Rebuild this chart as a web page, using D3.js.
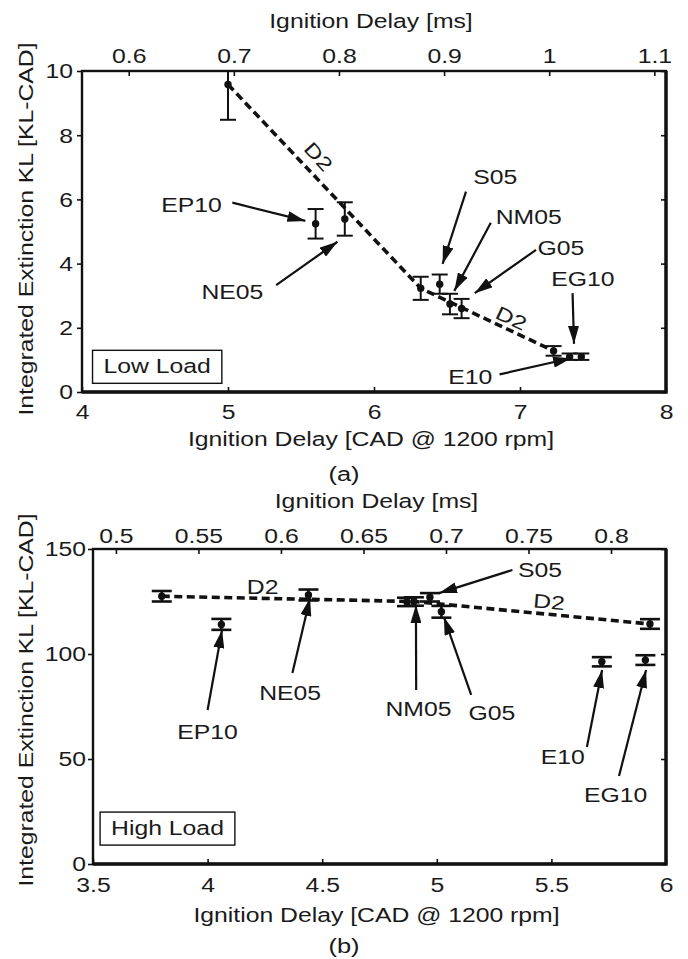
<!DOCTYPE html>
<html>
<head>
<meta charset="utf-8">
<script src="https://cdn.jsdelivr.net/npm/d3@7/dist/d3.min.js"></script>
<style>
body { margin: 0; background: #fff; }
text { font-family: "Liberation Sans", Arial, Helvetica, sans-serif; fill: #1a1a1a; }
</style>
</head>
<body>
<div id="viz_area"></div>
<script>
// ---------- (a) low load ----------
var lowD2Cad = [5.0, 6.32, 7.23];
var lowD2KL  = [9.58, 3.23, 1.28];
var lowD2Err = [1.1, 0.36, 0.15];

var lowFuels = ["EP10", "NE05", "S05", "NM05", "G05", "E10", "EG10"];
var lowCad   = [5.6, 5.8, 6.45, 6.52, 6.6, 7.34, 7.42];
var lowKL    = [5.24, 5.39, 3.36, 2.74, 2.6, 1.1, 1.1];
var lowErr   = [0.46, 0.52, 0.3, 0.32, 0.3, 0.1, 0.1];

var lowXTicks  = [4, 5, 6, 7, 8];
var lowYTicks  = [0, 2, 4, 6, 8, 10];
var lowMsTicks = [0.6, 0.7, 0.8, 0.9, 1, 1.1];

// label text, where it sits, arrow tail and arrow tip (all in data units)
var lowNoteText = ["EP10", "NE05", "S05", "NM05", "G05", "EG10", "E10"];
var lowNoteAt   = [[4.75, 5.83], [5.03, 3.12], [6.83, 6.68], [7.06, 5.46], [7.28, 4.49], [7.43, 3.52], [6.66, 0.46]];
var lowArrFrom  = [[5.03, 5.90], [5.33, 3.33], [6.63, 6.24], [6.80, 5.27], [7.11, 4.43], [7.36, 3.08], [6.86, 0.55]];
var lowArrTo    = [[5.53, 5.33], [5.75, 4.68], [6.47, 3.99], [6.55, 3.15], [6.69, 3.08], [7.37, 1.50], [7.35, 1.05]];
var lowD2At     = [[5.62, 7.33], [6.94, 2.30]];

// ---------- (b) high load ----------
var highD2Cad = [3.8, 4.9, 5.93];
var highD2KL  = [127.5, 125.0, 114.3];
var highD2Err = [2.5, 2.0, 2.3];

var highFuels = ["EP10", "NE05", "NM05", "S05", "G05", "E10", "EG10"];
var highCad   = [4.06, 4.44, 4.87, 4.97, 5.02, 5.72, 5.91];
var highKL    = [114.1, 128.1, 124.8, 127.0, 120.1, 96.3, 97.1];
var highErr   = [2.6, 2.6, 2.0, 2.0, 2.8, 2.2, 2.3];

var highXTicks  = [3.5, 4, 4.5, 5, 5.5, 6];
var highYTicks  = [0, 50, 100, 150];
var highMsTicks = [0.5, 0.55, 0.6, 0.65, 0.7, 0.75, 0.8];

var highNoteText = ["S05", "NE05", "EP10", "NM05", "G05", "E10", "EG10"];
var highNoteAt   = [[5.45, 140.0], [4.36, 81.4], [4.00, 62.9], [4.92, 73.8], [5.24, 71.9], [5.55, 51.0], [5.78, 32.9]];
var highArrFrom  = [[5.33, 140.0], [4.37, 91.0], [4.00, 73.3], [4.91, 82.9], [5.15, 80.5], [5.655, 55.7], [5.795, 41.9]];
var highArrTo    = [[5.01, 129.0], [4.447, 126.7], [4.063, 111.4], [4.909, 123.3], [5.031, 117.6], [5.721, 92.4], [5.913, 92.4]];
var highD2At     = [[4.24, 131.9], [5.49, 124.8]];

var CAD_PER_MS = 7.2;   // 1200 rpm -> 7.2 crank degrees per ms
var SX = 1.27;          // the figure's lettering is drawn wide
var FS = 19.5;

function __init__() {
    var svg = d3.select("#viz_area")
                .append("svg")
                .attr("width", 688)
                .attr("height", 959);

    svg.append("defs").append("marker")
       .attr("id", "head")
       .attr("viewBox", "0 0 18 11")
       .attr("refX", 18).attr("refY", 5.5)
       .attr("markerWidth", 18).attr("markerHeight", 11)
       .attr("markerUnits", "userSpaceOnUse")
       .attr("orient", "auto")
       .append("path")
       .attr("d", "M0,0 L18,5.5 L0,11 Z")
       .attr("fill", "#111");

    drawPanel(svg, {
        id: "a", left: 82, right: 666, top: 71, bottom: 392,
        xDomain: [4, 8], yDomain: [0, 10],
        xTicks: lowXTicks, yTicks: lowYTicks, msTicks: lowMsTicks,
        d2: d3.zip(lowD2Cad, lowD2KL, lowD2Err),
        pts: d3.zip(lowCad, lowKL, lowErr, lowFuels),
        notes: d3.zip(lowNoteText, lowNoteAt, lowArrFrom, lowArrTo),
        d2At: lowD2At, d2Rot: [48, 25],
        load: "Low Load", loadAt: [4.515, 0.8],
        capW: 8, barW: 2, topTitleY: 28, topTickY: 63, bottomTickY: 419, bottomTitleY: 446,
        captionY: 481, caption: "(a)", yTitleY: 229, yTickGap: 9
    });

    drawPanel(svg, {
        id: "b", left: 93, right: 666, top: 549, bottom: 864,
        xDomain: [3.5, 6], yDomain: [0, 150],
        xTicks: highXTicks, yTicks: highYTicks, msTicks: highMsTicks,
        d2: d3.zip(highD2Cad, highD2KL, highD2Err),
        pts: d3.zip(highCad, highKL, highErr, highFuels),
        notes: d3.zip(highNoteText, highNoteAt, highArrFrom, highArrTo),
        d2At: highD2At, d2Rot: [0, 5],
        load: "High Load", loadAt: [3.825, 17.1],
        capW: 10, barW: 2.6, topTitleY: 508, topTickY: 543, bottomTickY: 892, bottomTitleY: 922,
        captionY: 953, caption: "(b)", yTitleY: 700, yTickGap: 7
    });
}

// wide text helper
function label(g, x, y, str, rot) {
    return g.append("text")
            .attr("transform", "translate(" + x + "," + y + ")" + (rot ? " rotate(" + rot + ")" : "") + " scale(" + SX + ",1)")
            .attr("text-anchor", "middle")
            .attr("font-size", FS)
            .text(str);
}

function drawPanel(svg, p) {
    var x = d3.scaleLinear().domain(p.xDomain).range([p.left, p.right]);
    var y = d3.scaleLinear().domain(p.yDomain).range([p.bottom, p.top]);
    var xms = d3.scaleLinear()
                .domain([p.xDomain[0] / CAD_PER_MS, p.xDomain[1] / CAD_PER_MS])
                .range([p.left, p.right]);
    var fmt = d3.format("~g");
    var g = svg.append("g");

    // bottom axis, ticks pointing in
    var gx = g.append("g")
              .attr("transform", "translate(0," + p.bottom + ")")
              .call(d3.axisBottom(x).tickValues(p.xTicks).tickSize(-5).tickSizeOuter(0).tickFormat(fmt));
    // top axis in ms
    var gt = g.append("g")
              .attr("transform", "translate(0," + p.top + ")")
              .call(d3.axisTop(xms).tickValues(p.msTicks).tickSize(-5).tickSizeOuter(0).tickFormat(fmt));
    // left axis, short ticks outside
    var gy = g.append("g")
              .attr("transform", "translate(" + p.left + ",0)")
              .call(d3.axisLeft(y).tickValues(p.yTicks).tickSize(5).tickSizeOuter(0).tickFormat(fmt));
    // right axis, ticks only
    var gr = g.append("g")
              .attr("transform", "translate(" + p.right + ",0)")
              .call(d3.axisRight(y).tickValues(p.yTicks).tickSize(-5).tickSizeOuter(0).tickFormat(""));

    [gx, gt, gy, gr].forEach(function(a) {
        a.attr("font-size", null).attr("font-family", null);
        a.select(".domain").remove();
        a.selectAll("line").attr("stroke", "#111").attr("stroke-width", 1.6);
        a.selectAll("text").attr("x", null).attr("y", null).attr("dy", null).attr("fill", "#1a1a1a").attr("font-size", FS);
    });
    gx.selectAll("text").attr("transform", "translate(0," + (p.bottomTickY - p.bottom) + ") scale(" + SX + ",1)");
    gt.selectAll("text").attr("transform", "translate(0," + (p.topTickY - p.top) + ") scale(" + SX + ",1)");
    gy.selectAll("text").attr("dy", "0.35em")
      .attr("transform", "translate(" + (-p.yTickGap) + ",0) scale(" + SX + ",1)");

    // frame
    g.append("rect")
     .attr("x", p.left).attr("y", p.top)
     .attr("width", p.right - p.left).attr("height", p.bottom - p.top)
     .attr("fill", "none").attr("stroke", "#111").attr("stroke-width", 2.4);
    g.append("path")
     .attr("d", "M" + p.left + "," + p.bottom + "H" + p.right + "V" + p.top)
     .attr("fill", "none").attr("stroke", "#111").attr("stroke-width", 3.4);

    // axis titles
    var cx = (p.left + p.right) / 2 - 3;
    label(g, cx, p.topTitleY, "Ignition Delay [ms]");
    label(g, cx, p.bottomTitleY, "Ignition Delay [CAD @ 1200 rpm]");
    label(g, 33, p.yTitleY, "Integrated Extinction KL [KL-CAD]", -90);
    label(g, 344, p.captionY, p.caption).attr("font-size", 20);

    // marks, clipped to the axes box
    svg.append("clipPath").attr("id", "clip_" + p.id)
       .append("rect")
       .attr("x", p.left).attr("y", p.top)
       .attr("width", p.right - p.left).attr("height", p.bottom - p.top);
    var marks = g.append("g").attr("clip-path", "url(#clip_" + p.id + ")");

    // D2 trend, dashed
    marks.append("path")
         .datum(p.d2)
         .attr("d", d3.line().x((d) => x(d[0])).y((d) => y(d[1])))
         .attr("fill", "none")
         .attr("stroke", "#111")
         .attr("stroke-width", 3.6)
         .attr("stroke-dasharray", "8,4.5");

    var all = p.d2.concat(p.pts);

    var bars = marks.selectAll("g.bar")
                    .data(all)
                    .enter()
                    .append("g")
                    .attr("class", "bar")
                    .attr("stroke", "#111")
                    .attr("stroke-width", p.barW);
    bars.append("line")
        .attr("x1", (d) => x(d[0])).attr("x2", (d) => x(d[0]))
        .attr("y1", (d) => y(d[1] - d[2])).attr("y2", (d) => y(d[1] + d[2]));
    bars.append("line")
        .attr("x1", (d) => x(d[0]) - p.capW).attr("x2", (d) => x(d[0]) + p.capW)
        .attr("y1", (d) => y(d[1] - d[2])).attr("y2", (d) => y(d[1] - d[2]));
    bars.append("line")
        .attr("x1", (d) => x(d[0]) - p.capW).attr("x2", (d) => x(d[0]) + p.capW)
        .attr("y1", (d) => y(d[1] + d[2])).attr("y2", (d) => y(d[1] + d[2]));

    marks.selectAll("circle")
         .data(all)
         .enter()
         .append("circle")
         .attr("cx", (d) => x(d[0]))
         .attr("cy", (d) => y(d[1]))
         .attr("r", 3.7)
         .attr("fill", "#111");

    // fuel labels with arrows
    p.notes.forEach(function(n) {
        label(g, x(n[1][0]), y(n[1][1]), n[0]).attr("dy", "0.35em");
        g.append("line")
         .attr("x1", x(n[2][0])).attr("y1", y(n[2][1]))
         .attr("x2", x(n[3][0])).attr("y2", y(n[3][1]))
         .attr("stroke", "#111")
         .attr("stroke-width", 2.2)
         .attr("marker-end", "url(#head)");
    });

    // D2 tags along the dashed line
    p.d2At.forEach(function(d, i) {
        label(g, x(d[0]), y(d[1]), "D2", p.d2Rot[i]).attr("dy", "0.35em");
    });

    // load box
    var lt = label(g, x(p.loadAt[0]), y(p.loadAt[1]), p.load).attr("dy", "0.35em");
    var w = lt.node().getComputedTextLength() * SX;
    g.append("rect")
     .attr("x", x(p.loadAt[0]) - w / 2 - 11)
     .attr("y", y(p.loadAt[1]) - 16)
     .attr("width", w + 22)
     .attr("height", 33)
     .attr("fill", "none")
     .attr("stroke", "#111")
     .attr("stroke-width", 1.4);
}

window.onload = __init__;
</script>
</body>
</html>
